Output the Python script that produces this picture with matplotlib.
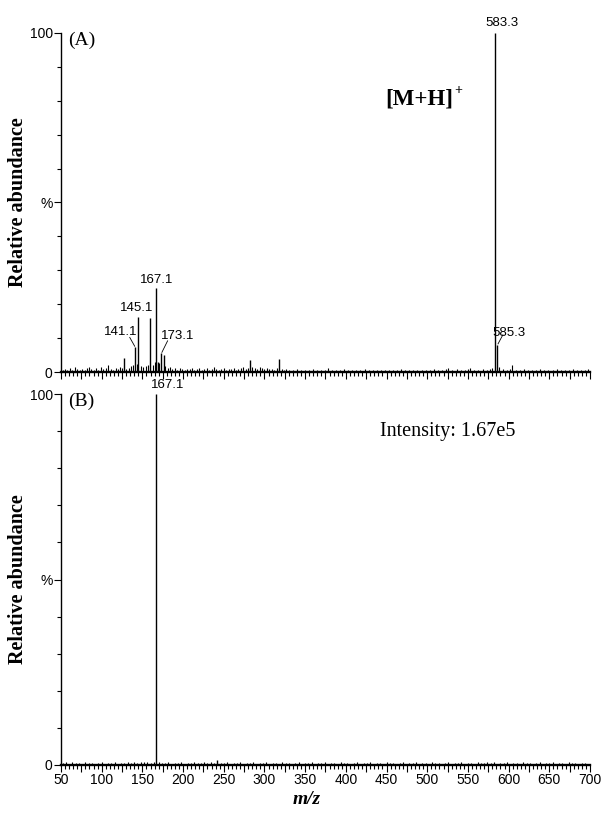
import matplotlib
matplotlib.use("Agg")
import matplotlib.pyplot as plt
from matplotlib.ticker import MultipleLocator

plt.rcParams['font.family'] = ['Liberation Sans', 'DejaVu Sans']

# panel A: labelled / visible peaks (m/z, relative abundance %)
peaks_a_mz = [127.0, 141.1, 145.1, 159.0, 167.1, 169.5, 173.1, 176.8, 282.0, 318.0, 583.3, 585.3]
peaks_a_h = [4.2, 7.4, 16.3, 16.0, 24.8, 3.0, 5.6, 5.0, 3.5, 3.8, 100.0, 8.0]

# panel A: baseline noise
noise_a_mz = [52, 55, 58, 61, 64, 67, 70, 73, 76, 79, 82, 84, 87, 90, 93, 96, 99, 102,
              105, 108, 111, 114, 117, 120, 123, 125, 130, 133, 136, 139, 143, 148, 151,
              154, 157, 163, 165, 171, 178, 181, 184, 187, 190, 193, 196, 199, 202, 205,
              208, 211, 214, 217, 220, 223, 226, 229, 232, 235, 238, 241, 244, 247, 250,
              253, 256, 259, 262, 265, 268, 271, 274, 277, 280, 285, 288, 291, 294, 297,
              300, 303, 306, 309, 312, 315, 321, 324, 327, 330, 335, 340, 345, 350, 355,
              360, 365, 370, 375, 378, 383, 388, 393, 398, 403, 408, 413, 418, 423, 428,
              433, 438, 443, 448, 453, 458, 463, 468, 473, 478, 483, 488, 493, 498, 503,
              508, 513, 518, 523, 526, 531, 536, 541, 546, 550, 553, 558, 563, 568, 573,
              577, 580, 588, 593, 598, 602, 604, 609, 614, 619, 624, 629, 634, 639, 644,
              649, 654, 659, 664, 669, 674, 679, 684, 689, 694, 698]
noise_a_h = [0.6, 0.9, 0.5, 1.1, 0.7, 1.4, 0.8, 0.6, 1.0, 0.5, 1.3, 1.6, 0.9, 0.6, 1.1, 0.7,
             1.5, 0.8, 1.2, 2.0, 1.0, 0.7, 1.3, 0.9, 1.6, 1.1, 0.8, 1.2, 1.8, 2.2, 2.5, 1.9,
             1.4, 1.7, 2.2, 2.0, 3.0, 2.6, 1.8, 1.2, 1.5, 0.8, 1.1, 0.7, 1.3, 0.9, 0.6, 1.0,
             0.8, 1.2, 0.7, 0.9, 1.1, 0.6, 0.8, 1.3, 0.7, 1.0, 1.5, 0.8, 0.6, 0.9, 1.2, 0.7,
             1.0, 0.8, 1.1, 0.6, 0.9, 1.2, 1.4, 1.0, 1.3, 1.6, 1.1, 0.9, 1.5, 1.2, 0.8, 1.1,
             0.9, 1.0, 0.7, 1.2, 0.8, 0.6, 0.9, 0.7, 0.6, 0.8, 0.5, 0.7, 0.6, 0.9, 0.5, 0.7,
             0.6, 1.1, 0.5, 0.7, 0.6, 0.8, 0.5, 0.7, 0.6, 0.5, 0.8, 0.6, 0.5, 0.7, 0.6, 0.5,
             0.7, 0.6, 0.5, 0.8, 0.6, 0.5, 0.7, 0.6, 0.5, 0.7, 0.6, 0.8, 0.5, 0.7, 0.9, 1.3,
             0.6, 0.8, 0.5, 0.7, 0.9, 1.3, 0.7, 0.6, 0.8, 0.6, 0.9, 1.1, 1.6, 0.9, 0.7, 0.8,
             2.0, 0.7, 0.6, 0.8, 0.5, 0.7, 0.6, 0.8, 0.5, 0.7, 0.6, 0.8, 0.5, 0.7, 0.6, 0.8,
             0.5, 0.7, 0.6, 0.8]

# panel B
peaks_b_mz = [167.1, 242.0]
peaks_b_h = [100.0, 1.3]

noise_b_mz = [52, 56, 60, 64, 68, 72, 76, 80, 84, 88, 92, 96, 100, 104, 108, 112, 116, 120,
              124, 128, 132, 136, 140, 144, 148, 152, 156, 160, 164, 170, 174, 178, 182, 186,
              190, 194, 198, 202, 206, 210, 214, 218, 222, 226, 230, 234, 238, 246, 250, 254,
              258, 262, 266, 270, 274, 278, 282, 286, 290, 294, 298, 302, 306, 310, 314, 318,
              322, 326, 330, 334, 338, 342, 346, 350, 354, 358, 362, 366, 370, 374, 378, 382,
              386, 390, 394, 398, 402, 406, 410, 414, 418, 422, 426, 430, 434, 438, 442, 446,
              450, 454, 458, 462, 466, 470, 474, 478, 482, 486, 490, 494, 498, 502, 506, 510,
              514, 518, 522, 526, 530, 534, 538, 542, 546, 550, 554, 558, 562, 566, 570, 574,
              578, 582, 586, 590, 594, 598, 602, 606, 610, 614, 618, 622, 626, 630, 634, 638,
              642, 646, 650, 654, 658, 662, 666, 670, 674, 678, 682, 686, 690, 694, 698]
noise_b_h = [0.5, 0.8, 0.4, 0.7, 0.5, 0.6, 0.4, 0.7, 0.5, 0.6, 0.4, 0.5, 0.7, 0.4, 0.6, 0.5,
             0.7, 0.4, 0.6, 0.5, 0.7, 0.5, 0.8, 0.6, 0.9, 0.7, 0.8, 0.6, 0.9, 0.8, 0.6, 0.5,
             0.7, 0.4, 0.6, 0.5, 0.7, 0.4, 0.6, 0.5, 0.7, 0.5, 0.6, 0.8, 0.5, 0.7, 0.6, 0.6,
             0.5, 0.7, 0.4, 0.6, 0.5, 0.7, 0.4, 0.6, 0.5, 0.7, 0.4, 0.6, 0.5, 0.7, 0.4, 0.6,
             0.5, 0.4, 0.7, 0.5, 0.6, 0.4, 0.5, 0.7, 0.4, 0.6, 0.5, 0.8, 0.4, 0.6, 0.5, 0.7,
             0.4, 0.6, 0.5, 0.4, 0.7, 0.5, 0.6, 0.4, 0.5, 0.7, 0.4, 0.6, 0.5, 0.7, 0.4, 0.6,
             0.5, 0.4, 0.7, 0.5, 0.6, 0.4, 0.5, 0.7, 0.4, 0.6, 0.5, 0.7, 0.4, 0.6, 0.5, 0.4,
             0.7, 0.5, 0.6, 0.4, 0.5, 0.7, 0.4, 0.6, 0.5, 0.7, 0.4, 0.6, 0.5, 0.4, 0.7, 0.5,
             0.6, 0.8, 0.5, 0.7, 0.4, 0.6, 0.5, 0.7, 0.4, 0.6, 0.5, 0.4, 0.7, 0.5, 0.6, 0.4,
             0.5, 0.7, 0.4, 0.6, 0.5, 0.7, 0.4, 0.6, 0.5, 0.4, 0.7, 0.5, 0.6, 0.4, 0.5, 0.6,
             0.4]

x_ticks = list(range(50, 701, 25))
x_labels = [str(t) if t % 50 == 0 else '' for t in x_ticks]

serif = ['Liberation Serif', 'DejaVu Serif']


def setup_axes(ax, show_labels):
    ax.set_xlim(50, 700)
    ax.set_ylim(0, 100)
    for side in ['top', 'right']:
        ax.spines[side].set_visible(False)
    ax.spines['left'].set_linewidth(1.0)
    ax.spines['bottom'].set_linewidth(1.7)
    ax.set_yticks([0, 50, 100])
    ax.set_yticklabels(['0', '%', '100'])
    ax.yaxis.set_minor_locator(MultipleLocator(10))
    ax.set_xticks(x_ticks)
    ax.set_xticklabels(x_labels if show_labels else [])
    ax.xaxis.set_minor_locator(MultipleLocator(5))
    ax.tick_params(axis='both', which='major', direction='out', length=5, width=0.8,
                   labelsize=10, pad=1)
    ax.tick_params(axis='both', which='minor', direction='out', length=3, width=0.8)
    ax.set_ylabel('Relative abundance', family=serif, fontweight='bold', fontsize=14.5)
    ax.yaxis.set_label_coords(-0.063, 0.5)


fig = plt.figure(figsize=(6.05, 8.18), dpi=100)
ax_a = fig.add_axes([0.1008, 0.5452, 0.8744, 0.4145])
ax_b = fig.add_axes([0.1008, 0.0648, 0.8744, 0.4535])

# panel A
ax_a.vlines(noise_a_mz, 0, noise_a_h, color='black', lw=0.8)
ax_a.vlines(peaks_a_mz, 0, peaks_a_h, color='black', lw=1.0)
setup_axes(ax_a, False)

lab = dict(fontsize=9.5, ha='center', va='bottom', clip_on=False)
ax_a.text(583.3 + 8, 101.3, '583.3', **lab)
ax_a.text(167.1, 25.4, '167.1', **lab)
ax_a.text(143.0, 17.0, '145.1', **lab)
ax_a.text(123.5, 10.0, '141.1', **lab)
ax_a.plot([134.5, 140.6], [10.2, 7.6], color='black', lw=0.6)
ax_a.text(193.0, 9.0, '173.1', **lab)
ax_a.plot([181.0, 174.0], [9.2, 5.8], color='black', lw=0.6)
ax_a.text(600.5, 9.8, '585.3', **lab)
ax_a.plot([593.0, 587.0], [11.0, 8.3], color='black', lw=0.6)

ax_a.text(58.5, 97.8, '(A)', family=serif, fontsize=14, va='center')
ax_a.text(448, 80.5, '[M+H]', family=serif, fontweight='bold', fontsize=16.5, va='center')
ax_a.text(533, 83.0, '+', family=serif, fontweight='bold', fontsize=10, va='center')

# panel B
ax_b.vlines(noise_b_mz, 0, noise_b_h, color='black', lw=0.8)
ax_b.vlines(peaks_b_mz, 0, peaks_b_h, color='black', lw=1.0)
setup_axes(ax_b, True)
ax_b.text(181.0, 100.8, '167.1', **lab)
ax_b.text(58.5, 98.0, '(B)', family=serif, fontsize=14, va='center')
ax_b.text(442, 89.8, 'Intensity: 1.67e5', family=serif, fontsize=14.5, va='center')

fig.text(307 / 605, 1 - 800 / 818, 'm/z', family=serif, fontweight='bold', style='italic',
         fontsize=14, ha='center', va='center')

fig.savefig('out.png', dpi=100)
